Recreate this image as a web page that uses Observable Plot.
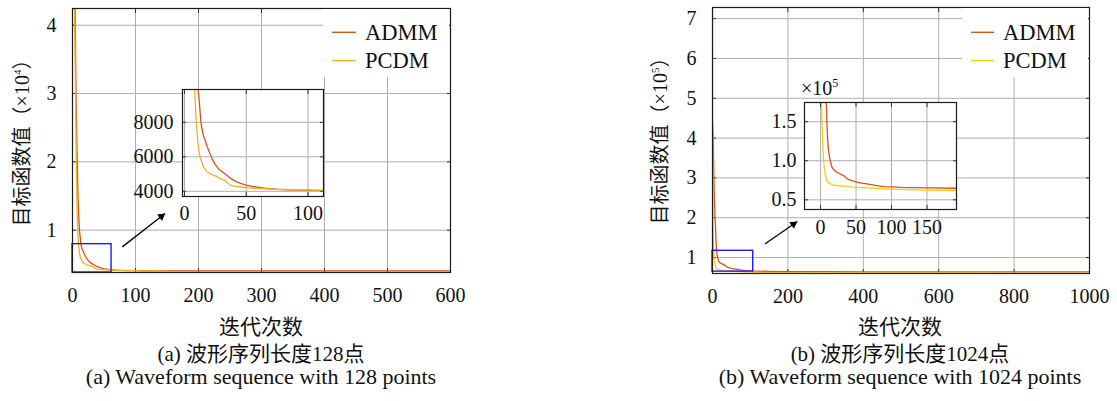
<!DOCTYPE html>
<html><head><meta charset="utf-8">
<script src="https://cdn.jsdelivr.net/npm/d3@7"></script>
<script src="https://cdn.jsdelivr.net/npm/@observablehq/plot@0.6"></script>
<style>
body{margin:0;background:#fff;}
#root{position:relative;width:1117px;height:401px;overflow:hidden;color:#111;font-family:"Liberation Serif","Noto Sans CJK SC",serif;}
.ylab{position:absolute;white-space:nowrap;font-size:20px;line-height:1;transform:translate(-50%,-50%) rotate(-90deg);}
.ctr{position:absolute;white-space:nowrap;transform:translateX(-50%);line-height:1;}
</style></head>
<body><div id="root"></div>
<script>
// ---------- data ----------
const seriesNames = ["ADMM", "PCDM"];

// (a) 128-point sequence
const iter128Admm = [0,3,4.5,5.5,7.5,9,11,12,13.3,15,17,18.5,20,22.3,25,27.6,31,34.5,38,42.6,46,50.7,55,61.5,68,75,85,100,112,150,200,300,400,500,600];
const obj128Admm  = [70000,50000,40000,30000,20000,14000,10000,9200,8000,7300,6900,6550,6300,5880,5550,5300,5100,4920,4720,4535,4440,4345,4280,4210,4160,4115,4085,4065,4057,4048,4042,4037,4033,4030,4028];
const iter128Pcdm = [0,2,3.5,4.8,6,7.5,8.5,9.5,11,12.5,15.4,18,20.9,23.5,26.3,29,31,33,35,37.2,41,45.3,52,61.5,75,88.6,100,112,130,145];
const obj128Pcdm  = [60000,48000,40000,30000,20000,12000,9600,8000,6700,6000,5400,5150,5017,4930,4860,4730,4680,4630,4480,4345,4290,4250,4200,4155,4120,4100,4075,4045,4040,4035];

// (b) 1024-point sequence
const iter1024Admm = [0,2,3,4,5,6,7,8.1,9,9.9,11,12.8,14.5,16.1,19,23.2,28,32.5,35,37.3,44,51.5,58,65.6,77,89,100,112.7,150,192,300,400,600,800,1000];
const obj1024Admm  = [440000,400000,340000,290000,250000,220000,195000,174000,150000,130000,115000,104000,97000,91700,88000,85300,83000,81000,79000,76800,74500,72500,71500,70400,68500,67000,66500,66000,65300,64800,64500,64300,64100,64000,64000];
const iter1024Pcdm = [0,0.5,1,1.4,2,2.8,4,5.2,7,9,12,16,25,42,60,89,120,150,192,300,500,700,1000];
const obj1024Pcdm  = [750000,400000,250000,174000,150000,130000,105000,91700,81000,74600,71500,69500,68000,66600,65500,64000,63000,62400,61900,61500,61300,61200,61100];

// ticks
const xTicks128 = [0,100,200,300,400,500,600];
const yTicks128 = [10000,20000,30000,40000];
const xTicksInset128 = [0,50,100];
const yTicksInset128 = [4000,6000,8000];
const xTicks1024 = [0,200,400,600,800,1000];
const yTicks1024 = [100000,200000,300000,400000,500000,600000,700000];
const xTicksInset1024 = [0,50,100,150];
const yTicksInset1024 = [50000,100000,150000];

// zoom boxes / arrows (data units)
const zoomBox128 = {x1: 0, x2: 62, y1: 3800, y2: 7950};
const arrow128 = {x1: 79, y1: 7550, x2: 147, y2: 12450};
const zoomBox1024 = {x1: 0, x2: 108, y1: 64700, y2: 117000};
const arrow1024 = {x1: 139, y1: 134000, x2: 225, y2: 190700};

// ---------- drawing ----------
const COL_ADMM = "#d95319";
const FONT = "'Liberation Serif', serif";
const root = document.getElementById("root");
const GRID = "#aeaeae";

function zip(xs, ys) { return xs.map((x, i) => ({x, y: ys[i]})); }

function place(el, left, top) {
  el.style.position = "absolute";
  el.style.left = left + "px";
  el.style.top = top + "px";
  root.appendChild(el);
}

function axesMarks(xt, yt, xf, yf, pad) {
  const blank = () => "";
  return [
    Plot.gridX(xt, {stroke: GRID, strokeOpacity: 1, strokeWidth: 1}),
    Plot.gridY(yt, {stroke: GRID, strokeOpacity: 1, strokeWidth: 1}),
    Plot.axisX(xt, {tickSize: 0, tickPadding: pad.x, tickFormat: xf, label: null}),
    Plot.axisY(yt, {tickSize: 0, tickPadding: pad.y, tickFormat: yf, label: null}),
    Plot.axisX(xt, {tickSize: -4, tickFormat: blank, label: null, stroke: "#333"}),
    Plot.axisX(xt, {anchor: "top", tickSize: -4, tickFormat: blank, label: null, stroke: "#333"}),
    Plot.axisY(yt, {tickSize: -4, tickFormat: blank, label: null, stroke: "#333"}),
    Plot.axisY(yt, {anchor: "right", tickSize: -4, tickFormat: blank, label: null, stroke: "#333"})
  ];
}

function panel(cfg) {
  const admm = zip(cfg.admmX, cfg.admmY);
  const pcdm = zip(cfg.pcdmX, cfg.pcdmY);
  const lines = [
    Plot.line(admm, {x: "x", y: "y", stroke: COL_ADMM, strokeWidth: 1.3, clip: true}),
    Plot.line(pcdm, {x: "x", y: "y", stroke: cfg.pcdmColor, strokeWidth: 1.3, clip: true})
  ];
  const m = cfg.main;
  // screen-space direction of the arrow, for a filled head
  const kx = (m.w - m.ml - m.mr) / (m.xDomain[1] - m.xDomain[0]);
  const ky = (310 - m.mt - m.mb) / (m.yDomain[1] - m.yDomain[0]);
  const ang = Math.atan2(-(cfg.arrow.y2 - cfg.arrow.y1) * ky, (cfg.arrow.x2 - cfg.arrow.x1) * kx);
  const headR = 3, tipOff = 2 * Math.sqrt(Math.PI * headR * headR / (Math.sqrt(3) * 3));

  const main = Plot.plot({
    width: m.w, height: 310,
    marginLeft: m.ml, marginRight: m.mr, marginTop: m.mt, marginBottom: m.mb,
    style: {fontFamily: FONT, fontSize: "20px", color: "#111", background: "transparent", overflow: "visible"},
    x: {domain: m.xDomain, label: null},
    y: {domain: m.yDomain, label: null},
    marks: [
      ...axesMarks(m.xTicks, m.yTicks, d => String(d), m.yFmt, {x: 15, y: 16}),
      ...lines,
      Plot.rect([cfg.box], {x1: "x1", x2: "x2", y1: "y1", y2: "y2", fill: "none", stroke: "#1a1aff", strokeWidth: 1.4}),
      Plot.link([cfg.arrow], {x1: "x1", y1: "y1", x2: "x2", y2: "y2", stroke: "#000", strokeWidth: 1.3}),
      Plot.dot([cfg.arrow], {x: "x2", y: "y2", symbol: "triangle", r: headR, fill: "#000", stroke: null,
        rotate: ang * 180 / Math.PI + 90, dx: -Math.cos(ang) * tipOff, dy: -Math.sin(ang) * tipOff}),
      Plot.frame({stroke: "#1a1a1a", strokeWidth: 1.2})
    ]
  });
  place(main, m.left, 0);

  const s = cfg.inset;
  const inset = Plot.plot({
    width: s.w, height: s.h,
    marginLeft: s.ml, marginRight: s.mr, marginTop: s.mt, marginBottom: s.mb,
    style: {fontFamily: FONT, fontSize: "20px", color: "#111", background: "transparent", overflow: "visible"},
    x: {domain: s.xDomain, label: null},
    y: {domain: s.yDomain, label: null},
    marks: [
      Plot.frame({fill: "#fff", stroke: null}),
      ...axesMarks(s.xTicks, s.yTicks, d => String(d), s.yFmt, {x: s.padX, y: s.padY}),
      ...lines,
      Plot.frame({stroke: "#1a1a1a", strokeWidth: 1.2})
    ]
  });
  place(inset, s.left, s.top);

  // legend
  const L = cfg.legend;
  const ns = "http://www.w3.org/2000/svg";
  const svg = document.createElementNS(ns, "svg");
  svg.setAttribute("width", L.w); svg.setAttribute("height", L.h);
  const bg = document.createElementNS(ns, "rect");
  bg.setAttribute("width", L.w); bg.setAttribute("height", L.h); bg.setAttribute("fill", "#fff");
  svg.appendChild(bg);
  const colors = [COL_ADMM, cfg.pcdmColor];
  seriesNames.forEach((name, i) => {
    const cy = L.row0 + i * L.rowGap;
    const ln = document.createElementNS(ns, "line");
    ln.setAttribute("x1", L.sx1); ln.setAttribute("x2", L.sx2);
    ln.setAttribute("y1", cy); ln.setAttribute("y2", cy);
    ln.setAttribute("stroke", colors[i]); ln.setAttribute("stroke-width", 1.4);
    svg.appendChild(ln);
    const t = document.createElementNS(ns, "text");
    t.setAttribute("x", L.tx); t.setAttribute("y", cy + 7.6);
    t.setAttribute("fill", "#111");
    t.style.fontFamily = FONT;
    t.style.fontSize = "22.5px";
    t.textContent = name;
    svg.appendChild(t);
  });
  place(svg, L.left, L.top);

  // y label
  const yl = document.createElement("div");
  yl.className = "ylab";
  yl.innerHTML = `目标函数值（×10<span style="font-size:0.55em;vertical-align:0.75em">${cfg.exp}</span>）`;
  yl.style.left = cfg.ylab.x + "px"; yl.style.top = cfg.ylab.y + "px";
  root.appendChild(yl);

  // x label and captions
  const mk = (txt, top, fs) => {
    const d = document.createElement("div");
    d.className = "ctr"; d.textContent = txt;
    d.style.left = cfg.cx + "px"; d.style.top = top + "px"; d.style.fontSize = fs + "px";
    root.appendChild(d);
  };
  mk("迭代次数", 317, 21);
  mk(cfg.cap1, 343.5, 21);
  mk(cfg.cap2, 366, 22);

  if (cfg.insetExp) {
    const e = document.createElement("div");
    e.style.cssText = `position:absolute;left:${cfg.insetExp.x}px;top:${cfg.insetExp.y}px;font-size:20px;line-height:1;white-space:nowrap;`;
    e.innerHTML = `×10<span style="font-size:0.6em;vertical-align:0.7em">5</span>`;
    root.appendChild(e);
  }
}

panel({
  admmX: iter128Admm, admmY: obj128Admm, pcdmX: iter128Pcdm, pcdmY: obj128Pcdm,
  pcdmColor: "#edb120",
  main: {left: 0, w: 460, ml: 72, mr: 10, mt: 8, mb: 38,
    xDomain: [0, 600], yDomain: [3800, 42450],
    xTicks: xTicks128, yTicks: yTicks128, yFmt: d => String(d / 1e4)},
  inset: {left: 130, top: 80, w: 200, h: 150, ml: 52, mr: 7, mt: 9, mb: 34,
    xDomain: [-1.6, 112.5], yDomain: [3700, 9900],
    xTicks: xTicksInset128, yTicks: yTicksInset128, yFmt: d => String(d), padX: 9, padY: 9},
  box: zoomBox128, arrow: arrow128,
  legend: {left: 323, top: 9, w: 126, h: 68, sx1: 9, sx2: 33, tx: 42, row0: 23.3, rowGap: 28.3},
  exp: "4", ylab: {x: 22, y: 138}, cx: 261,
  cap1: "(a) 波形序列长度128点", cap2: "(a) Waveform sequence with 128 points"
});

panel({
  admmX: iter1024Admm, admmY: obj1024Admm, pcdmX: iter1024Pcdm, pcdmY: obj1024Pcdm,
  pcdmColor: "#fcc90f",
  main: {left: 640, w: 477, ml: 72, mr: 28, mt: 7, mb: 37,
    xDomain: [0, 1000], yDomain: [60000, 728000],
    xTicks: xTicks1024, yTicks: yTicks1024, yFmt: d => String(d / 1e5)},
  inset: {left: 750, top: 70, w: 212, h: 170, ml: 54, mr: 6, mt: 32, mb: 31,
    xDomain: [-22.6, 191.6], yDomain: [37600, 174600],
    xTicks: xTicksInset1024, yTicks: yTicksInset1024, yFmt: d => (d / 1e5).toFixed(1), padX: 10, padY: 8},
  insetExp: {x: 801, y: 77},
  box: zoomBox1024, arrow: arrow1024,
  legend: {left: 962, top: 8, w: 126, h: 69, sx1: 9, sx2: 32, tx: 41, row0: 24.3, rowGap: 28.3},
  exp: "5", ylab: {x: 660, y: 136}, cx: 900,
  cap1: "(b) 波形序列长度1024点", cap2: "(b) Waveform sequence with 1024 points"
});
</script>
</body></html>
